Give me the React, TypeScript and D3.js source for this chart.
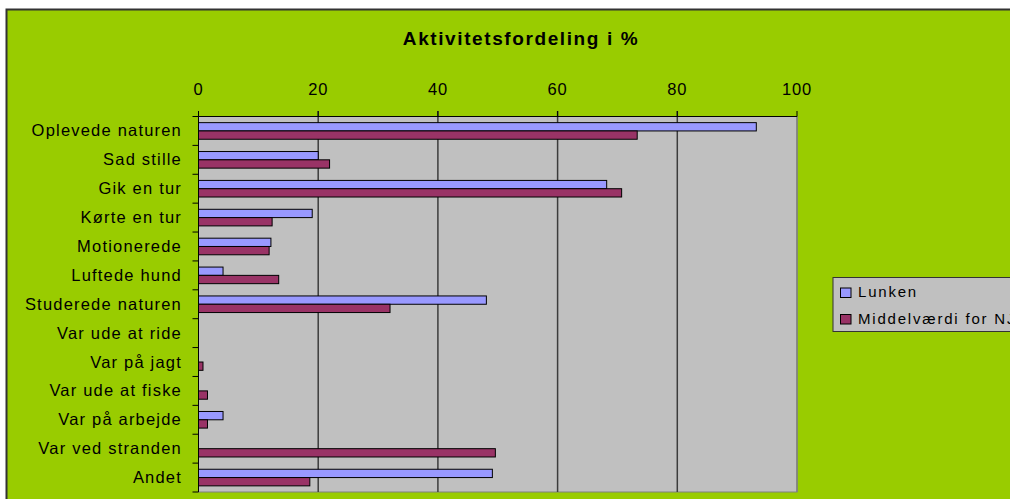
import React from "react";
import * as d3 from "d3";

const categories = [
  "Oplevede naturen",
  "Sad stille",
  "Gik en tur",
  "Kørte en tur",
  "Motionerede",
  "Luftede hund",
  "Studerede naturen",
  "Var ude at ride",
  "Var på jagt",
  "Var ude at fiske",
  "Var på arbejde",
  "Var ved stranden",
  "Andet",
];
const seriesNames = ["Lunken", "Middelværdi for NJ"];
const lunkenValues = [93.2, 20.0, 68.2, 19.0, 12.1, 4.1, 48.1, 0, 0, 0, 4.1, 0, 49.1];
const middelValues = [73.3, 21.9, 70.7, 12.3, 11.8, 13.4, 32.0, 0, 0.75, 1.5, 1.5, 49.6, 18.6];
const xTicks = [0, 20, 40, 60, 80, 100];
const title = "Aktivitetsfordeling i %";

const seriesColors = ["#9999FF", "#993366"];
const W = 1010;
const H = 499;

export default function App() {
  const plot = { left: 198.5, right: 797, top: 116.5, bottom: 492 };
  const x = d3.scaleLinear().domain([0, 100]).range([plot.left, plot.right]);
  const y = d3.scaleBand<string>().domain(categories).range([plot.top, plot.bottom]).padding(0);
  const ySub = d3
    .scaleBand<string>()
    .domain(seriesNames)
    .range([0, y.bandwidth()])
    .paddingInner(0)
    .paddingOuter(0.74);
  const series = [lunkenValues, middelValues];
  const font = "'Liberation Sans', Arial, sans-serif";

  return (
    <>
      <style>{`body{margin:0}`}</style>
      <svg width={W} height={H} style={{ display: "block" }} fontFamily={font}>
        <rect x={0} y={0} width={W} height={H} fill="#ffffff" />
        {/* chart area */}
        <rect x={6.5} y={9.5} width={W + 20} height={H + 20} fill="#99CC00" stroke="#333333" strokeWidth={2} />
        <text x={521} y={45} textAnchor="middle" fontWeight="bold" fontSize={19} letterSpacing={1.6} fill="#000">
          {title}
        </text>
        {/* plot background */}
        <rect
          x={plot.left}
          y={plot.top}
          width={plot.right - plot.left}
          height={plot.bottom - plot.top}
          fill="#C0C0C0"
          stroke="#808080"
          strokeWidth={1}
        />
        {/* gridlines */}
        {xTicks.slice(1, -1).map((t) => (
          <line key={t} x1={x(t)} x2={x(t)} y1={plot.top - 5.5} y2={plot.bottom} stroke="#3c3c3c" strokeWidth={1.5} />
        ))}
        <line x1={x(100)} x2={x(100)} y1={plot.top} y2={plot.bottom} stroke="#808080" strokeWidth={1.5} />
        {/* bars */}
        {series.map((vals, si) =>
          categories.map((c, ci) =>
            vals[ci] > 0 ? (
              <rect
                key={`${si}-${ci}`}
                x={x(0)}
                y={(y(c) ?? 0) + (ySub(seriesNames[si]) ?? 0)}
                width={x(vals[ci]) - x(0)}
                height={ySub.bandwidth()}
                fill={seriesColors[si]}
                stroke="#000"
                strokeWidth={1}
              />
            ) : null
          )
        )}
        {/* top axis */}
        <line x1={plot.left} x2={plot.right} y1={plot.top} y2={plot.top} stroke="#000" strokeWidth={1} />
        {xTicks.map((t) => (
          <g key={t}>
            <line x1={x(t)} x2={x(t)} y1={plot.top - 5.5} y2={plot.top} stroke="#000" strokeWidth={1} />
            <text x={x(t)} y={95} textAnchor="middle" fontSize={16.5} letterSpacing={0.8} fill="#000">
              {t}
            </text>
          </g>
        ))}
        {/* left axis */}
        <line x1={plot.left} x2={plot.left} y1={plot.top} y2={plot.bottom} stroke="#000" strokeWidth={1} />
        {categories.map((c) => (
          <g key={c}>
            <line x1={plot.left - 6} x2={plot.left} y1={y(c) ?? 0} y2={y(c) ?? 0} stroke="#000" strokeWidth={1} />
            <text
              x={182}
              y={(y(c) ?? 0) + y.bandwidth() / 2 + 5.5}
              textAnchor="end"
              fontSize={16.5}
              letterSpacing={1.2}
              fill="#000"
            >
              {c}
            </text>
          </g>
        ))}
        <line x1={plot.left - 6} x2={plot.left} y1={plot.bottom} y2={plot.bottom} stroke="#000" strokeWidth={1} />
        {/* legend */}
        <rect x={833} y={277.5} width={200} height={54} fill="#C0C0C0" stroke="#333" strokeWidth={1} />
        {seriesNames.map((s, i) => (
          <g key={s}>
            <rect x={840.5} y={288 + i * 26.5} width={10.5} height={9.5} fill={seriesColors[i]} stroke="#000" strokeWidth={1} />
            <text x={858} y={297 + i * 26.5} fontSize={15} letterSpacing={1.8} fill="#000">
              {s}
            </text>
          </g>
        ))}
      </svg>
    </>
  );
}
